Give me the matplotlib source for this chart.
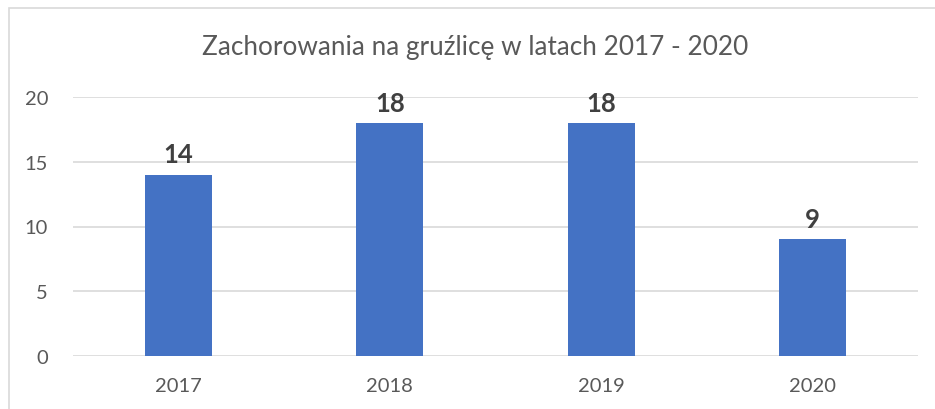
import matplotlib
matplotlib.use("Agg")
import matplotlib.pyplot as plt
from matplotlib.patches import Rectangle

years = ["2017", "2018", "2019", "2020"]
cases = [14, 18, 18, 9]
yticks = [0, 5, 10, 15, 20]
title = "Zachorowania na gruźlicę w latach 2017 - 2020"

plt.rcParams['font.family'] = ['Lato', 'DejaVu Sans']

W, H = 935, 410
fig = plt.figure(figsize=(W / 100, H / 100), dpi=100)
fig.patch.set_facecolor("white")

# outer chart frame (partly cropped)
fig.patches.append(Rectangle((9 / W, -0.1), 1.1, 1 - 9 / H + 0.1, transform=fig.transFigure,
                             fill=False, edgecolor="#d9d9d9", linewidth=1.2))

ax = fig.add_axes([73 / W, 1 - 357 / H, (918 - 73) / W, (357 - 98) / H])
x = range(len(years))
bars = ax.bar(x, cases, width=0.317, color="#4472c4", zorder=3)
ax.set_xlim(-0.5, len(years) - 0.5)
ax.set_ylim(0, 20)
ax.set_yticks(yticks)
ax.set_xticks(list(x))
ax.set_xticklabels(years)
ax.grid(axis="y", color="#d9d9d9", linewidth=1.2, zorder=0)
ax.set_axisbelow(True)
for s in ax.spines.values():
    s.set_visible(False)
ax.tick_params(axis="both", length=0, labelsize=14.5, colors="#595959")
ax.tick_params(axis="y", pad=18)
ax.tick_params(axis="x", pad=15)

for b, v in zip(bars, cases):
    ax.annotate(str(v), (b.get_x() + b.get_width() / 2, v), xytext=(0, 6),
                textcoords="offset points", ha="center", va="bottom",
                fontsize=18.5, fontweight="bold", color="#404040")

fig.text(0.5 * (200 + 750) / W, 1 - 48 / H, title, ha="center", va="center",
         fontsize=18.8, color="#595959")

fig.savefig("out.png", dpi=100)
